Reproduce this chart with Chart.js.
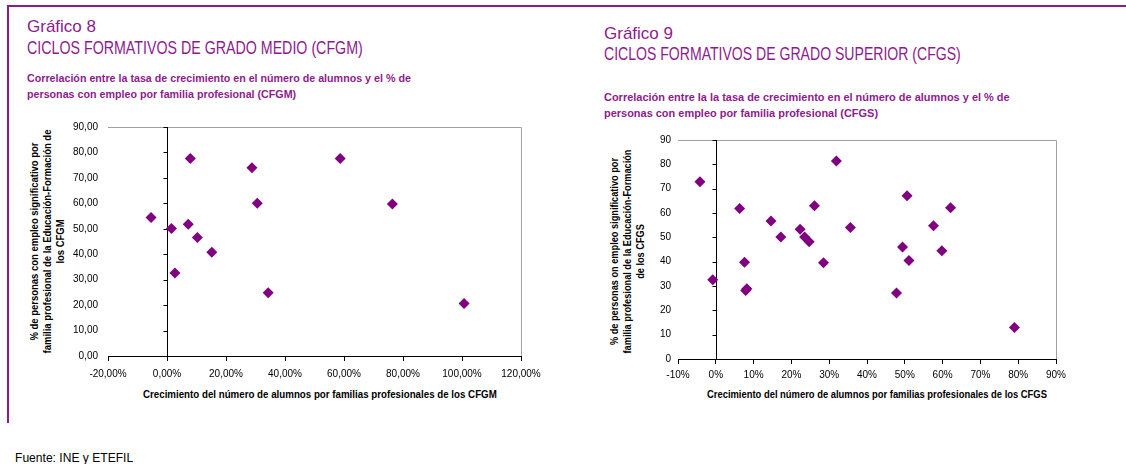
<!DOCTYPE html>
<html>
<head>
<meta charset="utf-8">
<script src="https://cdn.jsdelivr.net/npm/chart.js@4/dist/chart.umd.min.js"></script>
<style>
  body { margin: 0; width: 1126px; height: 464px; background: #fff; position: relative; overflow: hidden;
         font-family: 'Liberation Sans', Arial, sans-serif; }
  .frame-top { position: absolute; left: 8px; top: 5px; width: 1118px; height: 2px; background: #8e1b8c; }
  .frame-left { position: absolute; left: 7px; top: 5px; width: 2px; height: 418px; background: #8e1b8c; }
  .t { position: absolute; white-space: nowrap; color: #8e1b8c; transform-origin: 0 0; }
  .num { font-size: 17px; }
  .big { font-size: 18px; }
  .sub { font-size: 11.5px; font-weight: bold; line-height: 16px; }
  .axt { position: absolute; white-space: nowrap; font-size: 11px; font-weight: bold; color: #000; }
  .yt { position: absolute; font-size: 11px; font-weight: bold; color: #000; text-align: center;
        line-height: 13px; transform-origin: center center; white-space: nowrap; }
  canvas { position: absolute; }
</style>
</head>
<body>
<div class="frame-top"></div>
<div class="frame-left"></div>

<div class="t num" style="left:27px;top:17px">Gráfico 8</div>
<div class="t big" style="left:27px;top:38px" data-w="336">CICLOS FORMATIVOS DE GRADO MEDIO (CFGM)</div>
<div class="t sub" style="left:27px;top:70px" data-w="384">Correlación entre la tasa de crecimiento en el número de alumnos y el % de<br>personas con empleo por familia profesional (CFGM)</div>

<div class="t num" style="left:604px;top:24px">Gráfico 9</div>
<div class="t big" style="left:604px;top:44px" data-w="357">CICLOS FORMATIVOS DE GRADO SUPERIOR (CFGS)</div>
<div class="t sub" style="left:604px;top:89px" data-w="406">Correlación entre la la tasa de crecimiento en el número de alumnos y el % de<br>personas con empleo por familia profesional (CFGS)</div>

<div class="yt" id="ytl">% de personas con empleo significativo por<br>familia profesional de la Educación-Formación de<br>los CFGM</div>
<div class="yt" id="ytr">% de personas on empleo significativo por<br>familia profesional de la Educación-Formación<br>de los CFGS</div>

<div class="axt" id="xtl">Crecimiento del número de alumnos por familias profesionales de los CFGM</div>
<div class="axt" id="xtr">Crecimiento del número de alumnos por familias profesionales de los CFGS</div>

<div class="t" style="left:15px;top:450px;font-size:13px;color:#000" data-w="118">Fuente: INE y ETEFIL</div>

<canvas id="cfgm" width="490" height="275" style="left:60px;top:111px"></canvas>
<canvas id="cfgs" width="470" height="256" style="left:630px;top:127px"></canvas>

<script>
// CFGM: crecimiento (%) vs % personas con empleo
const cfgmGrowth = [-5.4, 1.5, 2.7, 7.2, 7.9, 10.3, 15.2, 28.8, 30.6, 34.3, 58.7, 76.4, 100.7]
const cfgmEmploy = [54.4, 50.1, 32.6, 51.8, 77.6, 46.6, 40.8, 74.0, 60.0, 24.9, 77.6, 59.7, 20.6]

// CFGS
const cfgsGrowth = [-4.2, -0.8, 6.3, 7.6, 7.9, 8.2, 14.6, 17.2, 22.3, 23.5, 24.7, 26.1, 28.5, 31.9, 35.6, 47.8, 49.4, 50.6, 51.1, 57.6, 59.8, 62.1, 79.0]
const cfgsEmploy = [72.8, 32.6, 61.9, 39.8, 28.2, 28.9, 56.7, 50.1, 53.3, 50.1, 48.2, 63.0, 39.6, 81.4, 54.0, 27.1, 46.0, 67.1, 40.5, 54.8, 44.5, 62.2, 12.9]

const cfgmXTicks = [-20, 0, 20, 40, 60, 80, 100, 120]
const cfgmYTicks = [0, 10, 20, 30, 40, 50, 60, 70, 80, 90]
const cfgsXTicks = [-10, 0, 10, 20, 30, 40, 50, 60, 70, 80, 90]
const cfgsYTicks = [0, 10, 20, 30, 40, 50, 60, 70, 80, 90]

const purple = '#800080'
const tickFont = { family: "'Liberation Sans', Arial, sans-serif", size: 10 }

const toPoints = (xs, ys) => xs.map((x, i) => ({ x: x, y: ys[i] }))
const comma = (v, d) => v.toFixed(d).replace('.', ',')

// gray plot frame on top/right and the black vertical axis at x = 0
const axisPlugin = {
    id: 'axisAtZero',
    beforeDatasetsDraw(chart) {
        const { ctx, chartArea, scales } = chart
        ctx.save()
        ctx.strokeStyle = '#a0a0a0'
        ctx.lineWidth = 1
        ctx.beginPath()
        ctx.moveTo(chartArea.left, chartArea.top + 0.5)
        ctx.lineTo(chartArea.right + 0.5, chartArea.top + 0.5)
        ctx.lineTo(chartArea.right + 0.5, chartArea.bottom)
        ctx.stroke()
        const x0 = Math.round(scales.x.getPixelForValue(0)) + 0.5
        ctx.strokeStyle = '#000'
        ctx.beginPath()
        ctx.moveTo(x0, chartArea.top)
        ctx.lineTo(x0, chartArea.bottom)
        scales.y.ticks.forEach(t => {
            const y = Math.round(scales.y.getPixelForValue(t.value)) + 0.5
            ctx.moveTo(x0 - 4, y)
            ctx.lineTo(x0, y)
        })
        ctx.stroke()
        ctx.restore()
    }
}

function makeChart(id, xs, ys, xTicks, yTicks, xFmt, yFmt, yWidth, xHeight, pad, yPad, xPad) {
    return new Chart(document.getElementById(id), {
        type: 'scatter',
        data: {
            datasets: [{
                data: toPoints(xs, ys),
                pointStyle: 'rectRot',
                pointRadius: 5.5,
                backgroundColor: purple,
                borderColor: purple,
                borderWidth: 0
            }]
        },
        options: {
            responsive: false,
            animation: false,
            layout: { padding: pad },
            plugins: { legend: { display: false }, tooltip: { enabled: false } },
            scales: {
                x: {
                    type: 'linear',
                    min: xTicks[0],
                    max: xTicks[xTicks.length - 1],
                    afterBuildTicks: s => { s.ticks = xTicks.map(v => ({ value: v })) },
                    afterFit: s => { s.height = xHeight },
                    border: { display: true, color: '#000', width: 1 },
                    grid: { drawOnChartArea: false, drawTicks: true, tickLength: 5, color: '#000' },
                    ticks: { autoSkip: false, maxRotation: 0, padding: xPad, color: '#000', font: tickFont, callback: xFmt }
                },
                y: {
                    type: 'linear',
                    min: yTicks[0],
                    max: yTicks[yTicks.length - 1],
                    afterBuildTicks: s => { s.ticks = yTicks.map(v => ({ value: v })) },
                    afterFit: s => { s.width = yWidth },
                    border: { display: false },
                    grid: { display: false, drawTicks: false },
                    ticks: { autoSkip: false, padding: yPad, color: '#000', font: tickFont, callback: yFmt }
                }
            }
        },
        plugins: [axisPlugin]
    })
}

makeChart('cfgm', cfgmGrowth, cfgmEmploy, cfgmXTicks, cfgmYTicks,
    v => comma(v, 2) + '%', v => comma(v, 2), 48, 30, { top: 10, right: 29, left: 0, bottom: 0 }, 10, 7)

makeChart('cfgs', cfgsGrowth, cfgsEmploy, cfgsXTicks, cfgsYTicks,
    v => v + '%', v => String(v), 48, 24, { top: 10, right: 44, left: 0, bottom: 0 }, 7, 5)

// squeeze the wide titles to the condensed widths of the original
document.querySelectorAll('[data-w]').forEach(el => {
    const s = parseFloat(el.dataset.w) / el.offsetWidth
    el.style.transform = 'scaleX(' + s + ')'
})

function placeY(id, cx, cy, len) {
    const el = document.getElementById(id)
    const w = el.offsetWidth, h = el.offsetHeight
    el.style.left = (cx - w / 2) + 'px'
    el.style.top = (cy - h / 2) + 'px'
    el.style.transform = 'rotate(-90deg) scaleX(' + (len / w) + ')'
}
function placeX(id, cx, cy, len) {
    const el = document.getElementById(id)
    const w = el.offsetWidth
    el.style.left = (cx - w / 2) + 'px'
    el.style.top = (cy - el.offsetHeight / 2) + 'px'
    el.style.transform = 'scaleX(' + (len / w) + ')'
}
placeY('ytl', 48, 241, 224)
placeY('ytr', 628, 251, 204)
placeX('xtl', 320, 394, 354)
placeX('xtr', 877, 394, 340)
</script>
</body>
</html>
